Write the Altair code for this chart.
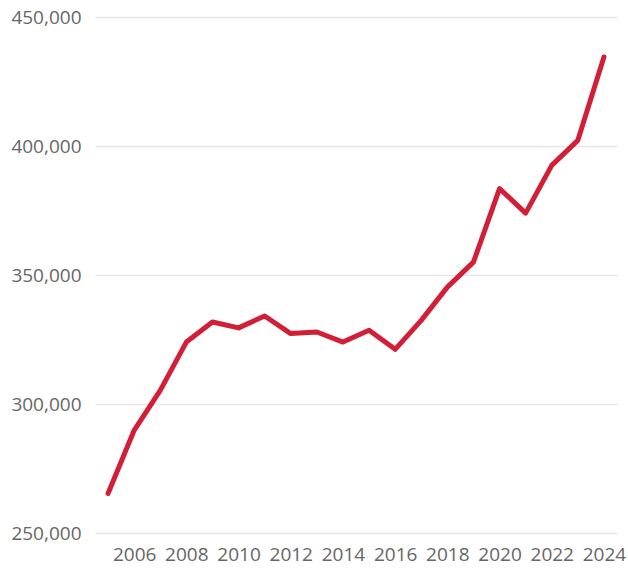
import altair as alt
import pandas as pd

years = list(range(2005, 2025))
values = [265300, 289800, 305300, 324000, 331800, 329500, 334100, 327300, 327900, 324000,
          328600, 321200, 332400, 345300, 355000, 383500, 374000, 392500, 402200, 434500]
x_ticks = list(range(2006, 2025, 2))
y_ticks = [250000, 300000, 350000, 400000, 450000]

df = pd.DataFrame({"year": years, "value": values})

chart = alt.Chart(df).mark_line(color="#d21f37", strokeWidth=5, strokeCap="round", strokeJoin="round").encode(
    x=alt.X("year:Q", scale=alt.Scale(domain=[2004.5, 2024.5], nice=False, zero=False),
            axis=alt.Axis(values=x_ticks, format="d", title=None, grid=False, domain=False, ticks=False,
                          labelFontSize=19, labelColor="#666666", labelPadding=12, labelFont="Open Sans")),
    y=alt.Y("value:Q", scale=alt.Scale(domain=[250000, 450000], nice=False, zero=False),
            axis=alt.Axis(values=y_ticks, format=",d", title=None, grid=True, gridColor="#e6e6e6", gridWidth=1.5,
                          domain=False, ticks=False, labelFontSize=19, labelColor="#666666",
                          labelPadding=14, labelFont="Open Sans")),
).properties(
    width=522, height=516,
    autosize=alt.AutoSizeParams(type="none"),
    padding={"left": 95, "top": 17, "right": 11, "bottom": 40},
).configure_view(stroke=None)

chart.save("out.html", embed_options={"renderer": "svg", "actions": False})
